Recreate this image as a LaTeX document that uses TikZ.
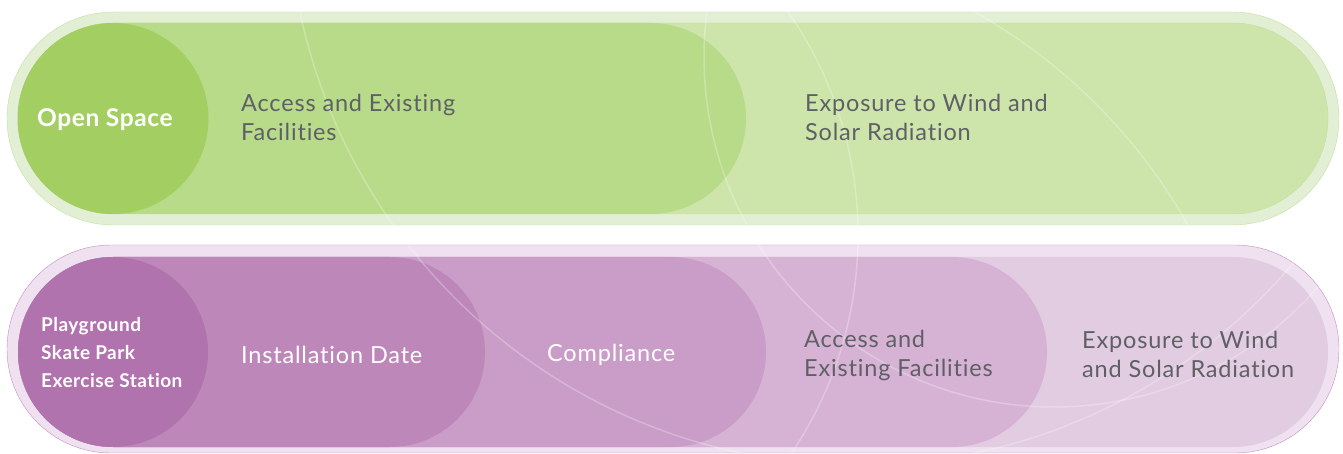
\documentclass[tikz,border=0pt]{standalone}
\usepackage{fontspec}
\setmainfont{Lato}[Ligatures=NoCommon]
\usepackage{tikz}

\definecolor{ringgreen}{HTML}{E2EFD4}
\definecolor{edgegreen}{HTML}{C2E0A0}
\definecolor{greenC}{HTML}{CDE5AB}
\definecolor{greenB}{HTML}{B8DB89}
\definecolor{greenA}{HTML}{A3CF62}
\definecolor{ringpurple}{HTML}{EFE1EF}
\definecolor{edgepurple}{HTML}{C68CC3}
\definecolor{purpleD}{HTML}{E2CCE2}
\definecolor{purpleC}{HTML}{D6B3D5}
\definecolor{purpleB}{HTML}{C99DC8}
\definecolor{purpleA}{HTML}{BE87B9}
\definecolor{purplekey}{HTML}{B173AD}
\definecolor{textgray}{HTML}{5F6066}

\newfontfamily\itemfont{Lato}[Ligatures=NoCommon, LetterSpace=3.5]
\newfontfamily\keyfont{Lato}[Ligatures=NoCommon, LetterSpace=2.5]

\tikzset{
  itemtext/.style={anchor=west, align=left, inner sep=0pt,
    font=\itemfont\fontsize{23.5}{29}\selectfont},
  graytext/.style={itemtext, text=textgray},
  whitetext/.style={itemtext, text=white},
  keytext/.style={anchor=west, align=left, inner sep=0pt, text=white},
  arcline/.style={white, opacity=0.25, line width=1.5pt},
}

\begin{document}
\begin{tikzpicture}[x=1pt, y=-1pt]

\useasboundingbox (0,0) rectangle (1343,454);

%
% Open space band
%
\filldraw[fill=ringgreen, draw=edgegreen, rounded corners=106.5pt] (7,12) rectangle (1339,225);

\filldraw[fill=greenC, draw=edgegreen, rounded corners=95.5pt] (18,23) rectangle (1328,214);

\fill[greenB, rounded corners=95.5pt] (18,23) rectangle (746,214);

% faint arcs
\begin{scope}
\clip[rounded corners=106.5pt] (7,12) rectangle (1339,225);
\clip (215,0) rectangle (1343,454);
\draw[arcline] (858,-105) circle [radius=570];
\draw[arcline] (467,235) circle [radius=391];
\draw[arcline] (1054,57) circle [radius=350];
\begin{scope}
\clip (900,0) rectangle (1343,454);
\draw[arcline] (700,500) circle [radius=560];
\end{scope}
\end{scope}

\fill[greenA] (113,118.5) circle [radius=95.5];

\path
(37,120) node [keytext, font=\keyfont\bfseries\fontsize{24.5}{26}\selectfont] (open) {Open Space};

\path
(241,117.5) node [graytext] (access) {Access and Existing\\Facilities};

\path
(805,117.5) node [graytext] (exposure) {Exposure to Wind and\\Solar Radiation};


%
% Playground band
%
\filldraw[fill=ringpurple, draw=edgepurple, rounded corners=104pt] (7,245) rectangle (1339,453);

\fill[purpleD, rounded corners=95pt] (18,257) rectangle (1328,447);

\fill[purpleC, rounded corners=95pt] (18,257) rectangle (1047,447);

\fill[purpleB, rounded corners=95pt] (18,257) rectangle (766,447);

\fill[purpleA, rounded corners=95pt] (18,257) rectangle (485,447);

% faint arcs
\begin{scope}
\clip[rounded corners=104pt] (7,245) rectangle (1339,453);
\clip (215,0) rectangle (1343,454);
\draw[arcline] (858,-105) circle [radius=570];
\draw[arcline] (467,235) circle [radius=391];
\draw[arcline] (1054,57) circle [radius=350];
\end{scope}

\fill[purplekey] (113,352) circle [radius=95];

\path
(41,353) node [keytext, font=\keyfont\bfseries\fontsize{19}{28}\selectfont] (play) {Playground\\Skate Park\\Exercise Station};

\path
(241,355) node [whitetext] (install) {Installation Date};

\path
(547,355) node [whitetext] (comply) {Compliance};

\path
(804,355.5) node [graytext] (access2) {Access and\\Existing Facilities};

\path
(1082,354) node [graytext] (exposure2) {Exposure to Wind\\and Solar Radiation};

\end{tikzpicture}
\end{document}
